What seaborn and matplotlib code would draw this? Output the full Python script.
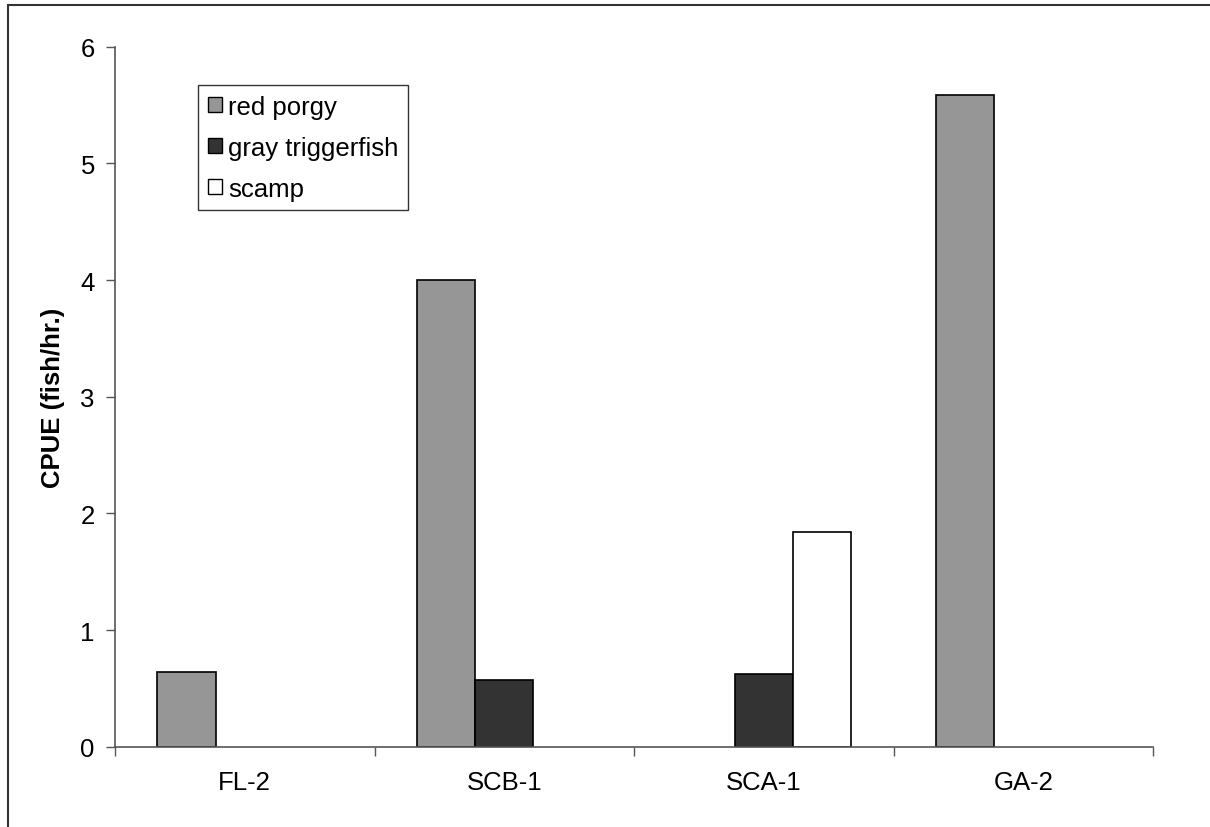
import matplotlib
matplotlib.use("Agg")
import matplotlib.pyplot as plt
import matplotlib.patches as mpatches
from matplotlib.ticker import FixedLocator, NullFormatter
import seaborn as sns
import pandas as pd

# ---- data ----
sites = ["FL-2", "SCB-1", "SCA-1", "GA-2"]
species = ["red porgy", "gray triggerfish", "scamp"]
red_porgy = [0.64, 4.0, None, 5.59]
gray_triggerfish = [None, 0.57, 0.62, None]
scamp = [None, None, 1.84, None]
colors = ["#969696", "#333333", "#ffffff"]
y_ticks = [0, 1, 2, 3, 4, 5, 6]
y_label = "CPUE (fish/hr.)"

rows = []
for sp, vals in zip(species, [red_porgy, gray_triggerfish, scamp]):
    for site, v in zip(sites, vals):
        if v is not None:
            rows.append({"site": site, "species": sp, "cpue": v})
df = pd.DataFrame(rows)

sns.set_style("white")
plt.rcParams["font.family"] = ["Liberation Sans", "DejaVu Sans"]
plt.rcParams["text.color"] = "black"
plt.rcParams["xtick.color"] = "black"
plt.rcParams["ytick.color"] = "black"
plt.rcParams["axes.labelcolor"] = "black"

W, H = 1210, 828
fig = plt.figure(figsize=(W / 100, H / 100), dpi=100)
ax = fig.add_axes([115 / W, 1 - 747.7 / H, (1153 - 115) / W, 700 / H])

sns.barplot(data=df, x="site", y="cpue", hue="species", order=sites,
            hue_order=species, palette=colors, width=0.674,
            edgecolor="black", linewidth=1.2, errorbar=None, ax=ax,
            legend=False)

ax.set_xlim(-0.5, 3.5)
ax.set_ylim(0, 6)
ax.set_yticks(y_ticks)
ax.set_yticklabels([str(t) for t in y_ticks])

# category boundary ticks (major, no labels) + centered labels (minor)
ax.xaxis.set_major_locator(FixedLocator([-0.5, 0.5, 1.5, 2.5, 3.5]))
ax.xaxis.set_major_formatter(NullFormatter())
ax.xaxis.set_minor_locator(FixedLocator([0, 1, 2, 3]))
ax.set_xticklabels(sites, minor=True)
ax.tick_params(axis="x", which="minor", bottom=True, length=0, pad=17,
               labelsize=18.5, labelcolor="black")
ax.tick_params(axis="x", which="major", bottom=True, length=6.5, width=1,
               color="#555555", direction="out")
ax.tick_params(axis="y", left=True, length=6.5, width=1, color="#555555",
               direction="out", pad=8, labelsize=18.5, labelcolor="black")
ax.set_xlabel("")

for s in ["top", "right"]:
    ax.spines[s].set_visible(False)
for s in ["left", "bottom"]:
    ax.spines[s].set_color("#555555")
    ax.spines[s].set_linewidth(1.2)

ax.set_ylabel(y_label, fontsize=18.5, fontweight="bold", va="center",
              color="black")
ax.yaxis.set_label_coords((53 - 115) / (1153 - 115), 0.5)

handles = [mpatches.Patch(facecolor=c, edgecolor="black", linewidth=1.0, label=sp)
           for c, sp in zip(colors, species)]
leg = fig.legend(handles=handles, loc="upper left",
                 bbox_to_anchor=(198 / W, 1 - 86 / H), fontsize=18.5,
                 frameon=True, fancybox=False, shadow=False,
                 handlelength=0.55, handleheight=0.55, handletextpad=0.25,
                 labelspacing=0.66, borderpad=0.38, borderaxespad=0,
                 labelcolor="black")
leg.get_frame().set_edgecolor("black")
leg.get_frame().set_linewidth(1.0)

# outer frame (only top and left edges visible in the reference)
frame = mpatches.Rectangle((8 / W, -0.1), 1.2, 1 - 6 / H + 0.1,
                           transform=fig.transFigure, fill=False,
                           edgecolor="#333333", linewidth=1.5, clip_on=False)
fig.add_artist(frame)

fig.savefig("out.png", dpi=100)
